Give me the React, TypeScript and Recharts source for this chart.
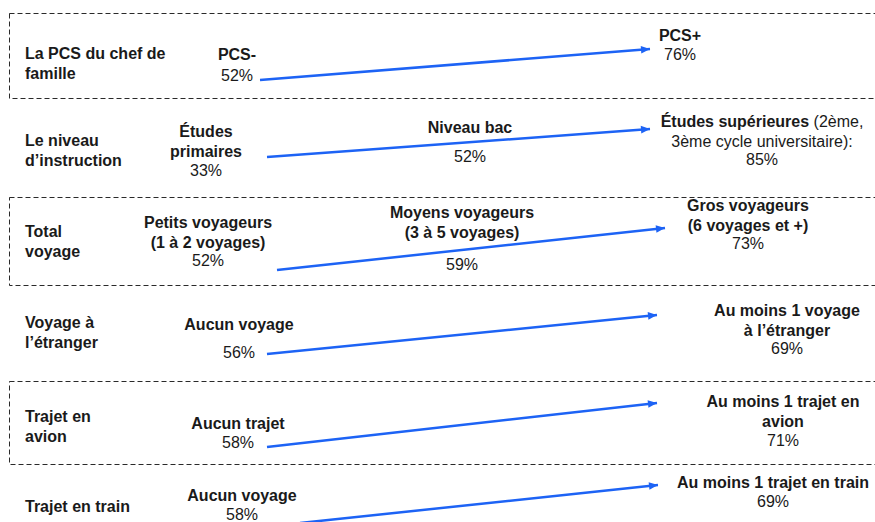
import { ComposedChart, XAxis, YAxis, Line, Scatter, ReferenceArea } from 'recharts'

// data
const rowTitles = [
  ['La PCS du chef de', 'famille'],
  ['Le niveau', 'd’instruction'],
  ['Total', 'voyage'],
  ['Voyage à', 'l’étranger'],
  ['Trajet en', 'avion'],
  ['Trajet en train'],
]
const fromLabels = [
  ['PCS-'],
  ['Études', 'primaires'],
  ['Petits voyageurs', '(1 à 2 voyages)'],
  ['Aucun voyage'],
  ['Aucun trajet'],
  ['Aucun voyage'],
]
const fromValues = [52, 33, 52, 56, 58, 58]
const midLabels: (string[] | null)[] = [null, ['Niveau bac'], ['Moyens voyageurs', '(3 à 5 voyages)'], null, null, null]
const midValues: (number | null)[] = [null, 52, 59, null, null, null]
// "bold|regular" inside a line
const toLabels = [
  ['PCS+'],
  ['Études supérieures| (2ème,', '|3ème cycle universitaire):'],
  ['Gros voyageurs', '(6 voyages et +)'],
  ['Au moins 1 voyage', 'à l’étranger'],
  ['Au moins 1 trajet en', 'avion'],
  ['Au moins 1 trajet en train'],
]
const toValues = [76, 85, 73, 69, 71, 69]

// layout (pixels)
const W = 875
const H = 522
const LINE_H = 19.5
const FONT = '"Liberation Sans", Arial, sans-serif'
const BLUE = '#1d63f5'
const boxes = [
  [13.5, 98.5],
  [197.5, 285.5],
  [381.5, 464.5],
]
const titleY = [59, 146, 237, 328, 422, 512]
const fromPos = [[237, 60, 81], [206, 137, 176], [208, 228, 266], [239, 330, 358], [238, 429, 448], [242, 501, 520]]
const midPos: (number[] | null)[] = [null, [470, 133, 162], [462, 218, 270], null, null, null]
const toPos = [[680, 41, 60], [762, 127, 165], [748, 211, 249], [787, 316, 354], [783, 407, 446], [773, 488, 507]]
const arrowPos = [[260, 80, 650, 49], [267, 157, 650, 129], [277, 270, 665, 228], [267, 354, 657, 315], [267, 447, 657, 403], [300, 523, 658, 485]]

type Seg = { t: string; b: boolean }
type Block = { x: number; y: number; anchor: 'start' | 'middle'; lines: Seg[][] }

const parseLine = (s: string): Seg[] => {
  if (!s.includes('|')) return [{ t: s, b: true }]
  const [bold, reg] = s.split('|')
  return [{ t: bold, b: true }, { t: reg, b: false }].filter((seg) => seg.t.length > 0)
}

const blocks: Block[] = []
rowTitles.forEach((lines, i) => {
  blocks.push({ x: 25, y: titleY[i], anchor: 'start', lines: lines.map(parseLine) })
  const [fx, fy, fvy] = fromPos[i]
  blocks.push({ x: fx, y: fy, anchor: 'middle', lines: fromLabels[i].map(parseLine) })
  blocks.push({ x: fx, y: fvy, anchor: 'middle', lines: [[{ t: `${fromValues[i]}%`, b: false }]] })
  const mp = midPos[i]
  const ml = midLabels[i]
  if (mp && ml) {
    blocks.push({ x: mp[0], y: mp[1], anchor: 'middle', lines: ml.map(parseLine) })
    blocks.push({ x: mp[0], y: mp[2], anchor: 'middle', lines: [[{ t: `${midValues[i]}%`, b: false }]] })
  }
  const [tx, ty, tvy] = toPos[i]
  blocks.push({ x: tx, y: ty, anchor: 'middle', lines: toLabels[i].map(parseLine) })
  blocks.push({ x: tx, y: tvy, anchor: 'middle', lines: [[{ t: `${toValues[i]}%`, b: false }]] })
})

const arrows = arrowPos.map(([x0, y0, x1, y1]) => [
  { x: x0, y: y0 },
  { x: x1, y: y1, fx: x0, fy: y0 },
])

const TextShape = (props: any) => {
  const { cx, cy, payload } = props
  return (
    <text x={cx} y={cy} textAnchor={payload.anchor} fontFamily={FONT} fontSize={16} fill="#1a1a1a">
      {payload.lines.map((line: Seg[], i: number) => (
        <tspan key={i} x={cx} y={cy + i * LINE_H}>
          {line.map((s, j) => (
            <tspan key={j} fontWeight={s.b ? 700 : 400}>
              {s.t}
            </tspan>
          ))}
        </tspan>
      ))}
    </text>
  )
}

const ArrowHead = (props: any) => {
  const { cx, cy, index, payload, points } = props
  if (index !== 1) return <g key={`a${index}`} />
  let ang = 0
  if (points && points[0]) ang = Math.atan2(cy - points[0].y, cx - points[0].x)
  else ang = Math.atan2(payload.y - payload.fy, payload.x - payload.fx)
  const len = 9
  const hw = 3.8
  const bx = cx - len * Math.cos(ang)
  const by = cy - len * Math.sin(ang)
  const px = -Math.sin(ang) * hw
  const py = Math.cos(ang) * hw
  return (
    <polygon
      key={`a${index}`}
      points={`${cx},${cy} ${bx + px},${by + py} ${bx - px},${by - py}`}
      fill={BLUE}
    />
  )
}

export default function App() {
  return (
    <div style={{ position: 'absolute', left: 0, top: 0, background: '#fff' }}>
      <ComposedChart width={W} height={H} margin={{ top: 0, right: 0, bottom: 0, left: 0 }}>
        <XAxis type="number" dataKey="x" domain={[0, W]} hide allowDataOverflow />
        <YAxis type="number" dataKey="y" domain={[0, H]} reversed hide allowDataOverflow />
        {boxes.map(([y1, y2], i) => (
          <ReferenceArea
            key={`box${i}`}
            x1={9.5}
            x2={W + 20}
            y1={y1}
            y2={y2}
            fill="none"
            fillOpacity={0}
            stroke="#2a2a2a"
            strokeWidth={1}
            strokeDasharray="5 3"
            ifOverflow="visible"
          />
        ))}
        {arrows.map((d, i) => (
          <Line
            key={`arrow${i}`}
            data={d}
            dataKey="y"
            type="linear"
            stroke={BLUE}
            strokeWidth={2.5}
            dot={ArrowHead}
            activeDot={false}
            isAnimationActive={false}
          />
        ))}
        <Scatter data={blocks} dataKey="y" shape={TextShape} isAnimationActive={false} />
      </ComposedChart>
    </div>
  )
}
